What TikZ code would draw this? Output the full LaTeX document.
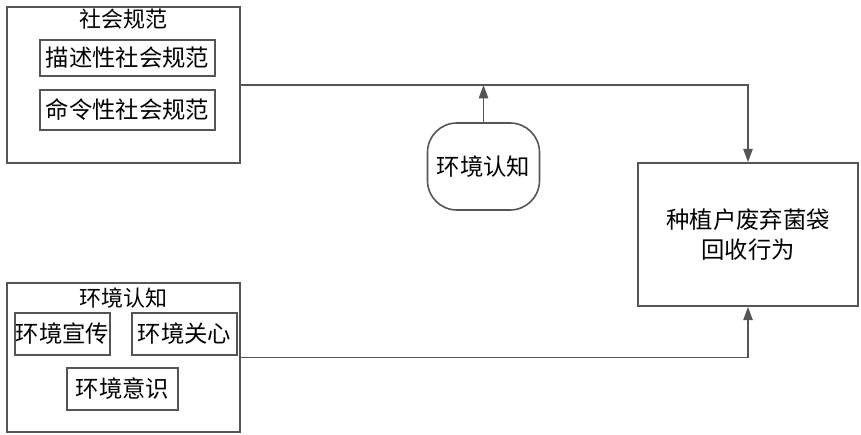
\documentclass[tikz,border=0pt]{standalone}
\usepackage{fontspec}
\setmainfont{Noto Sans CJK SC}
\usetikzlibrary{arrows.meta, positioning}
\definecolor{linegray}{HTML}{555555}

\begin{document}
\begin{tikzpicture}[
  x=0.75pt, y=-0.75pt,
  box/.style={draw=linegray, line width=1.2pt, inner sep=0pt, align=center, font=\fontsize{17.5}{22.5}\selectfont},
  ttl/.style={inner sep=0pt, font=\fontsize{16.5}{20}\selectfont},
  arr/.style={-{Triangle[length=10pt, width=7pt, fill=linegray]}, line width=1.2pt, draw=linegray}
]
  \useasboundingbox (0,0) rectangle (861,435);
  % social norms
  \node[box, minimum width=174.75pt, minimum height=117pt] (norm) at (123.5,85) {};
  \node[ttl] (normttl) at (123.5,19) {社会规范};
  \node[box, minimum width=131.25pt, minimum height=27pt] (descr) at (127.5,58) {描述性社会规范};
  \node[box, minimum width=131.25pt, minimum height=30pt] (injun) at (127.5,110) {命令性社会规范};

  % environmental cognition
  \node[box, minimum width=174.75pt, minimum height=111.75pt] (cogn) at (123.5,357.5) {};
  \node[ttl] (cognttl) at (123.5,298) {环境认知};
  \node[box, minimum width=71.25pt, minimum height=31.5pt] (publ) at (62.5,334) {环境宣传};
  \node[box, minimum width=78.75pt, minimum height=31.5pt] (care) at (184.5,334) {环境关心};
  \node[box, minimum width=83.25pt, minimum height=31.5pt] (aware) at (122.5,389) {环境意识};

  % moderator and outcome
  \node[box, minimum width=84pt, minimum height=65.25pt, rounded corners=22pt] (moder) at (483.5,166.5) {环境认知};
  \node[box, minimum width=165pt, minimum height=107.25pt] (behav) at (748,234.5) {种植户废弃菌袋\\回收行为};

  \draw[arr] (norm.east) -| (behav.north);
  \draw[arr] (cogn.east) -| (behav.south);
  \coordinate (meet) at (moder.north |- norm.east);
  \draw[arr] (moder.north) -- (meet);
\end{tikzpicture}
\end{document}
